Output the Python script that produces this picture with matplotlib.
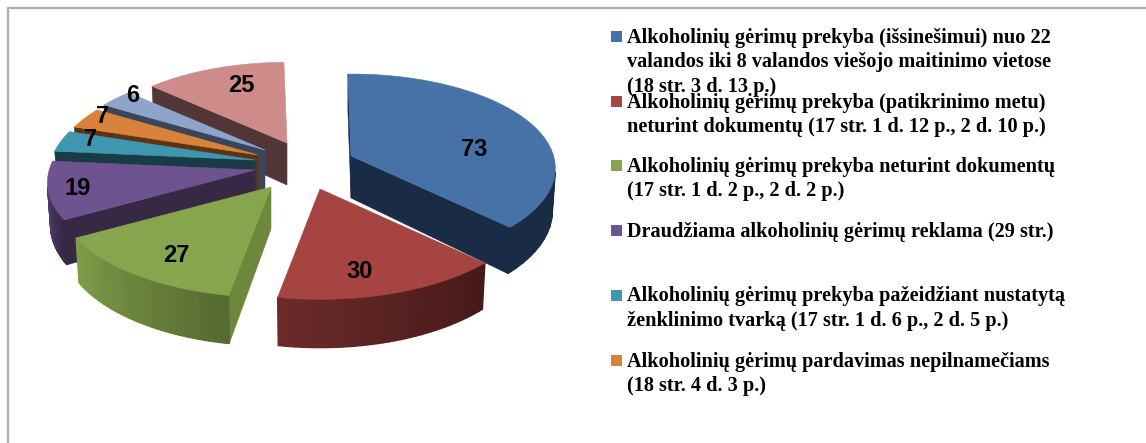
import numpy as np
import matplotlib
matplotlib.use("Agg")
import matplotlib.pyplot as plt
from matplotlib.colors import to_rgb
from matplotlib.patches import Polygon, Rectangle

values = [73, 30, 27, 19, 7, 7, 6, 25]
legend_labels = [
    "Alkoholinių gėrimų prekyba (išsinešimui) nuo 22\nvalandos iki 8 valandos viešojo maitinimo vietose\n(18 str. 3 d. 13 p.)",
    "Alkoholinių gėrimų prekyba (patikrinimo metu)\nneturint dokumentų (17 str. 1 d. 12 p., 2 d. 10 p.)",
    "Alkoholinių gėrimų prekyba neturint dokumentų\n(17 str. 1 d. 2 p., 2 d. 2 p.)",
    "Draudžiama alkoholinių gėrimų reklama (29 str.)",
    "Alkoholinių gėrimų prekyba pažeidžiant nustatytą\nženklinimo tvarką (17 str. 1 d. 6 p., 2 d. 5 p.)",
    "Alkoholinių gėrimų pardavimas nepilnamečiams\n(18 str. 4 d. 3 p.)",
]

# colours per slice
top_colors = ["#4672A8", "#A64442", "#87A54C", "#6F5390", "#3F96B0", "#D9823B", "#8EA5CB", "#CD8C8A"]
face_colors = ["#1A2C45", "#5A2320", "#6D873D", "#372944", "#193B45", "#5D3412", "#3A4559", "#523637"]
wall_start = ["#1A2C45", "#451A18", "#566B30", "#372944", "#193B45", "#5D3412", "#3A4559", "#523637"]
wall_end = ["#1A2C45", "#6B2A2A", "#7F9C49", "#604880", "#193B45", "#5D3412", "#3A4559", "#523637"]

# layout of the exploded pie, in pixels
center_x, center_y = 255, 165
shift_x = [96, 65, 16, 0, 0, 3, 10, 32]
shift_y = [-9, 24, 22, 5, -5, -10, -15, -22]
radius_scale = [0.965, 1, 1, 0.98, 0.97, 0.96, 0.96, 0.95]
label_x = [474, 360, 176, 78, 91, 103, 133, 241]
label_y = [149, 272, 255, 188, 140, 116, 95, 85]
draw_order = [7, 6, 5, 4, 3, 0, 2, 1]
radius_x, radius_y, tilt, depth = 210, 96, 0.13, 42
start_angle = -1

legend_y = [38, 102.5, 167, 231.5, 296.5, 361.5]
legend_box_y = [36.5, 101, 165.5, 230, 295, 360]
line_step = 24.4


def project(theta, scale):
    u, v = np.sin(theta), np.cos(theta)
    w = 1 + tilt * v
    return radius_x * scale * u / w, -radius_y * scale * v / w, depth / w


def area(pts):
    x, y = np.array(pts).T
    return 0.5 * np.sum(x * np.roll(y, -1) - np.roll(x, -1) * y)


fig = plt.figure(figsize=(11.46, 4.43), dpi=100)
ax = fig.add_axes([0, 0, 1, 1])
ax.set_xlim(0, 1146)
ax.set_ylim(443, 0)
ax.axis("off")

# chart frame, only top and left show in the crop
ax.plot([8, 8, 1146], [443, 8, 8], color="#ADADAD", lw=1.6)

edges = np.cumsum([0] + values) / sum(values) * 2 * np.pi + np.radians(start_angle)

for i in draw_order:
    ax_c = center_x + shift_x[i]
    ay_c = center_y + shift_y[i]
    thetas = np.linspace(edges[i], edges[i + 1], 40)
    dx, dy, d = project(thetas, radius_scale[i])
    top = np.column_stack([ax_c + dx, ay_c + dy])
    bottom = np.column_stack([ax_c + dx * 0.985, ay_c + dy + d])
    apex_top = np.array([ax_c, ay_c])
    apex_bot = np.array([ax_c, ay_c + depth])
    top_poly = np.vstack([apex_top, top])
    sign = area(top_poly)

    # radial faces, walked the same way round as the top polygon
    faces = [[apex_top, top[0], bottom[0], apex_bot],
             [top[-1], apex_top, apex_bot, bottom[-1]]]
    for quad in faces:
        if area(quad) * sign < 0:
            ax.add_patch(Polygon(quad, closed=True, fc=face_colors[i], ec=face_colors[i], lw=0.4))

    # outer wall, one strip per arc step so the shade can run along it
    c0, c1 = np.array(to_rgb(wall_start[i])), np.array(to_rgb(wall_end[i]))
    for j in range(len(thetas) - 1):
        quad = [top[j], top[j + 1], bottom[j + 1], bottom[j]]
        if area(quad) * sign < 0:
            col = c0 + (c1 - c0) * j / (len(thetas) - 2)
            ax.add_patch(Polygon(quad, closed=True, fc=col, ec=col, lw=1.0))

    ax.add_patch(Polygon(top_poly, closed=True, fc=top_colors[i], ec=top_colors[i], lw=0.4))

for i, v in enumerate(values):
    ax.text(label_x[i], label_y[i], str(v), ha="center", va="center",
            fontsize=17, fontweight="bold", family="Liberation Sans", color="black")

for i, label in enumerate(legend_labels):
    ax.add_patch(Rectangle((611, legend_box_y[i] - 5.5), 11, 11, fc=top_colors[i], ec="none"))
    for k, line in enumerate(label.split("\n")):
        ax.text(627, legend_y[i] + k * line_step, line, ha="left", va="center",
                fontsize=14.6, fontweight="bold", family="Liberation Serif", color="black")

fig.savefig("out.png", dpi=100, facecolor="white")
